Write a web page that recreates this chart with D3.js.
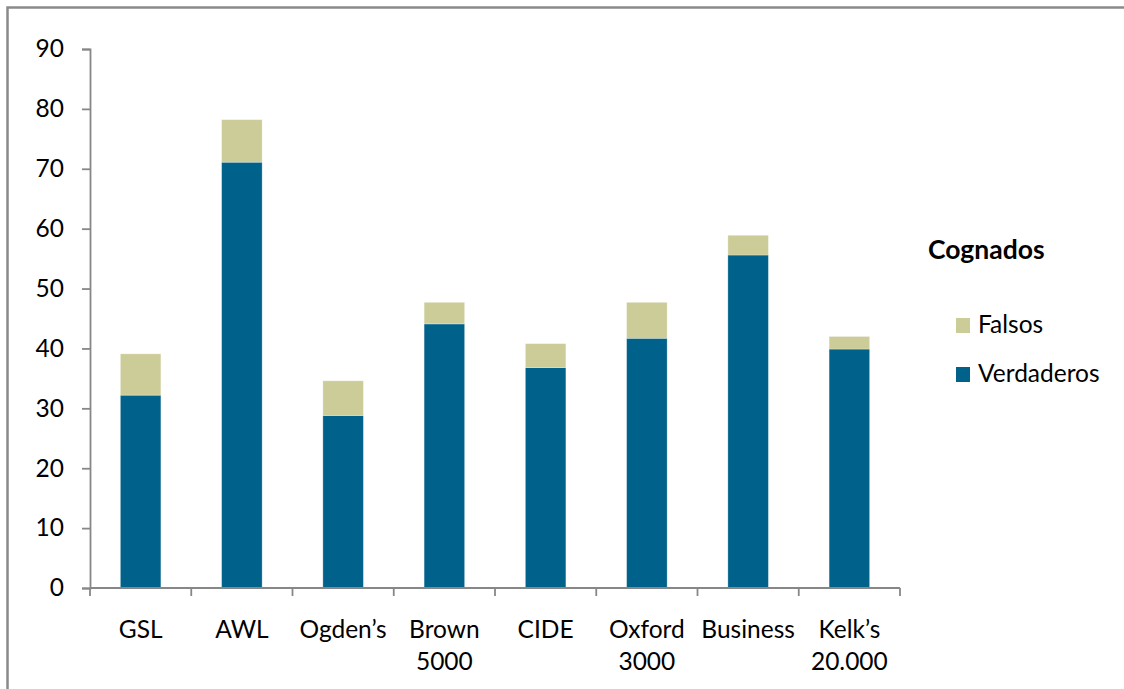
<!DOCTYPE html>
<html>
<head>
<meta charset="utf-8">
<script src="https://cdn.jsdelivr.net/npm/d3@7"></script>
<style>
  html, body { margin: 0; padding: 0; background: #fff; overflow: hidden; }
  svg { display: block; }
  text { font-family: Lato, "Open Sans", sans-serif; fill: #000; }
</style>
</head>
<body>
<svg id="chart" width="1124" height="689"></svg>
<script>
// Word lists (lines of each label separated by \n)
const categories = ["GSL", "AWL", "Ogden’s", "Brown\n5000", "CIDE", "Oxford\n3000", "Business", "Kelk’s\n20.000"];
// True cognates and false cognates per list (stacked)
const verdaderos = [32.2, 71.1, 28.8, 44.1, 36.8, 41.7, 55.6, 39.9];
const falsos     = [6.9, 7.1, 5.8, 3.6, 4.0, 6.0, 3.3, 2.1];
const yTicks = [0, 10, 20, 30, 40, 50, 60, 70, 80, 90];
const seriesNames = ["Verdaderos", "Falsos"];
const seriesColors = { Verdaderos: "#00628b", Falsos: "#cccc99" };
const legendTitle = "Cognados";

const svg = d3.select("#chart");
const W = +svg.attr("width"), H = +svg.attr("height");
const fontSize = 24.5;

// outer frame: only its left and top edges fall inside the view
svg.append("path")
  .attr("d", `M7.5,${H + 5} V7.5 H${W + 5}`)
  .attr("fill", "none")
  .attr("stroke", "#8a8a8a")
  .attr("stroke-width", 2.5);

const plot = { left: 90, right: 900, top: 49, bottom: 588 };

const x = d3.scaleBand()
  .domain(categories)
  .range([plot.left, plot.right])
  .paddingInner(0.6)
  .paddingOuter(0.3);

const y = d3.scaleLinear()
  .domain([0, 90])
  .range([plot.bottom, plot.top]);

const rows = categories.map((c, i) => ({ cat: c, Verdaderos: verdaderos[i], Falsos: falsos[i] }));
const stacked = d3.stack().keys(seriesNames)(rows);

// bars
svg.append("g")
  .selectAll("g")
  .data(stacked)
  .join("g")
  .attr("fill", d => seriesColors[d.key])
  .selectAll("rect")
  .data(d => d)
  .join("rect")
  .attr("x", d => x(d.data.cat))
  .attr("width", x.bandwidth())
  .attr("y", d => y(d[1]))
  .attr("height", d => y(d[0]) - y(d[1]))
  .attr("stroke", "rgba(255,255,255,0.35)")
  .attr("stroke-width", 0.8);

const axisColor = "#878787";

// y axis
const yAxis = svg.append("g")
  .attr("transform", `translate(${plot.left},0)`)
  .call(d3.axisLeft(y).tickValues(yTicks).tickSize(8).tickPadding(18).tickFormat(d3.format("d")));
yAxis.select(".domain").attr("stroke", axisColor).attr("stroke-width", 1.8);
yAxis.selectAll(".tick line").attr("stroke", axisColor).attr("stroke-width", 1.8);
yAxis.selectAll(".tick text")
  .attr("font-size", fontSize)
  .attr("font-family", "Lato, sans-serif")
  .attr("fill", "#000");

// x axis line
svg.append("line")
  .attr("x1", plot.left).attr("x2", plot.right)
  .attr("y1", plot.bottom).attr("y2", plot.bottom)
  .attr("stroke", axisColor).attr("stroke-width", 1.8);

// x ticks at category boundaries
const step = x.step();
const boundaries = d3.range(categories.length + 1).map(i => plot.left + i * step);
svg.append("g")
  .selectAll("line")
  .data(boundaries)
  .join("line")
  .attr("x1", d => d).attr("x2", d => d)
  .attr("y1", plot.bottom).attr("y2", plot.bottom + 8)
  .attr("stroke", axisColor).attr("stroke-width", 1.8);

// category labels
const xl = svg.append("g")
  .selectAll("text")
  .data(categories)
  .join("text")
  .attr("x", d => x(d) + x.bandwidth() / 2)
  .attr("y", 638)
  .attr("text-anchor", "middle")
  .attr("font-size", fontSize);
xl.selectAll("tspan")
  .data(d => d.split("\n"))
  .join("tspan")
  .attr("x", function () { return d3.select(this.parentNode).attr("x"); })
  .attr("dy", (d, i) => i === 0 ? 0 : 32)
  .text(d => d);

// legend
const legend = svg.append("g");
legend.append("text")
  .attr("x", 928).attr("y", 259)
  .attr("font-size", 26.5)
  .attr("font-weight", "bold")
  .text(legendTitle);

const legendOrder = ["Falsos", "Verdaderos"];
const legendY = d3.scalePoint().domain(legendOrder).range([318, 367]);
const items = legend.selectAll("g.item")
  .data(legendOrder)
  .join("g")
  .attr("class", "item")
  .attr("transform", d => `translate(956,${legendY(d)})`);
items.append("rect")
  .attr("width", 14).attr("height", 15)
  .attr("fill", d => seriesColors[d]);
items.append("text")
  .attr("x", 22).attr("y", 15)
  .attr("font-size", fontSize)
  .text(d => d);
</script>
</body>
</html>
